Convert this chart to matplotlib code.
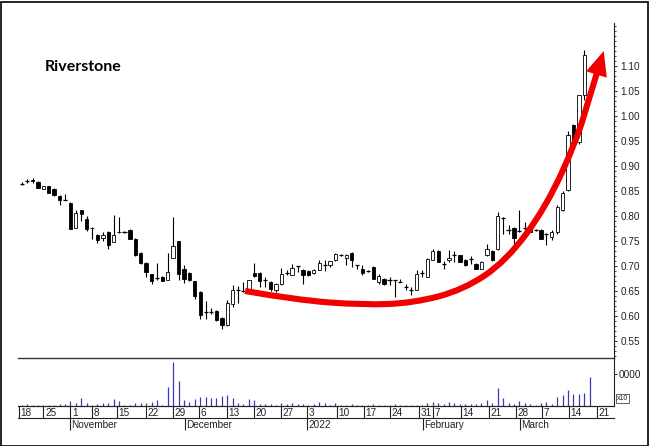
import numpy as np
import matplotlib
matplotlib.use("Agg")
from matplotlib import pyplot as plt
from matplotlib.path import Path
from matplotlib.patches import FancyArrowPatch, Rectangle
from matplotlib.ticker import MultipleLocator

title = "Riverstone"

# Daily candles, one per trading session (Oct 2021 - Mar 2022)
opens = [0.865, 0.870, 0.873, 0.869, 0.855, 0.860, 0.855, 0.841, 0.833, 0.827,
         0.777, 0.812, 0.794, 0.777, 0.763, 0.757, 0.769, 0.749, 0.769, 0.768,
         0.773, 0.755, 0.727, 0.707, 0.684, 0.677, 0.679, 0.673, 0.717, 0.750,
         0.694, 0.687, 0.670, 0.649, 0.609, 0.609, 0.611, 0.597, 0.582, 0.625,
         0.652, 0.650, 0.650, 0.687, 0.687, 0.672, 0.669, 0.652, 0.664, 0.687,
         0.683, 0.700, 0.693, 0.691, 0.687, 0.693, 0.703, 0.702, 0.713, 0.722,
         0.717, 0.727, 0.702, 0.695, 0.691, 0.699, 0.669, 0.675, 0.672, 0.672,
         0.669, 0.659, 0.652, 0.653, 0.687, 0.679, 0.713, 0.731, 0.705, 0.712,
         0.722, 0.722, 0.713, 0.715, 0.705, 0.695, 0.722, 0.731, 0.735, 0.797,
         0.772, 0.777, 0.770, 0.777, 0.777, 0.772, 0.773, 0.765, 0.759, 0.769,
         0.812, 0.853, 0.982, 0.949, 1.042]
highs = [0.868, 0.874, 0.876, 0.870, 0.861, 0.861, 0.856, 0.842, 0.845, 0.828,
         0.812, 0.813, 0.800, 0.778, 0.764, 0.768, 0.770, 0.803, 0.799, 0.770,
         0.774, 0.756, 0.728, 0.708, 0.685, 0.707, 0.680, 0.727, 0.799, 0.751,
         0.702, 0.688, 0.671, 0.650, 0.630, 0.617, 0.612, 0.598, 0.633, 0.663,
         0.660, 0.668, 0.673, 0.707, 0.688, 0.679, 0.670, 0.666, 0.697, 0.692,
         0.705, 0.701, 0.694, 0.692, 0.694, 0.713, 0.712, 0.711, 0.726, 0.724,
         0.724, 0.728, 0.703, 0.702, 0.693, 0.700, 0.685, 0.676, 0.679, 0.673,
         0.675, 0.665, 0.659, 0.692, 0.693, 0.716, 0.735, 0.732, 0.710, 0.733,
         0.730, 0.723, 0.714, 0.720, 0.706, 0.710, 0.745, 0.732, 0.809, 0.799,
         0.782, 0.778, 0.812, 0.789, 0.778, 0.775, 0.774, 0.766, 0.772, 0.822,
         0.850, 0.970, 0.985, 1.042, 1.132]
lows = [0.862, 0.866, 0.866, 0.856, 0.854, 0.846, 0.841, 0.823, 0.832, 0.774,
        0.776, 0.790, 0.770, 0.755, 0.747, 0.750, 0.735, 0.748, 0.767, 0.766,
        0.754, 0.720, 0.705, 0.679, 0.665, 0.672, 0.670, 0.672, 0.716, 0.672,
        0.667, 0.670, 0.635, 0.595, 0.595, 0.605, 0.590, 0.575, 0.580, 0.618,
        0.627, 0.648, 0.649, 0.679, 0.659, 0.659, 0.650, 0.648, 0.663, 0.682,
        0.682, 0.689, 0.665, 0.681, 0.685, 0.692, 0.691, 0.698, 0.711, 0.720,
        0.702, 0.699, 0.695, 0.682, 0.689, 0.675, 0.665, 0.662, 0.662, 0.639,
        0.668, 0.652, 0.642, 0.652, 0.679, 0.678, 0.712, 0.708, 0.695, 0.708,
        0.709, 0.708, 0.700, 0.705, 0.694, 0.694, 0.720, 0.710, 0.733, 0.765,
        0.765, 0.745, 0.768, 0.765, 0.768, 0.770, 0.755, 0.742, 0.752, 0.765,
        0.810, 0.850, 0.945, 0.945, 1.033]
closes = [0.865, 0.870, 0.870, 0.857, 0.860, 0.847, 0.842, 0.832, 0.833, 0.774,
          0.807, 0.804, 0.774, 0.776, 0.753, 0.762, 0.743, 0.763, 0.768, 0.768,
          0.755, 0.722, 0.707, 0.689, 0.671, 0.677, 0.671, 0.688, 0.740, 0.685,
          0.674, 0.672, 0.640, 0.603, 0.609, 0.609, 0.592, 0.582, 0.627, 0.653,
          0.652, 0.650, 0.673, 0.680, 0.671, 0.672, 0.655, 0.665, 0.685, 0.687,
          0.697, 0.700, 0.682, 0.682, 0.693, 0.707, 0.703, 0.710, 0.725, 0.722,
          0.723, 0.713, 0.702, 0.687, 0.691, 0.675, 0.680, 0.665, 0.672, 0.672,
          0.669, 0.659, 0.652, 0.685, 0.687, 0.715, 0.731, 0.709, 0.705, 0.717,
          0.722, 0.709, 0.702, 0.715, 0.695, 0.709, 0.735, 0.712, 0.799, 0.797,
          0.772, 0.757, 0.770, 0.777, 0.769, 0.772, 0.755, 0.765, 0.769, 0.819,
          0.847, 0.962, 0.949, 1.042, 1.122]

# Volume (x10)
volumes = [100, 420, 200, 150, 210, 150, 320, 420, 420, 1470,
           740, 2520, 740, 210, 420, 740, 950, 2000, 1470, 210,
           210, 950, 950, 950, 1050, 1790, 100, 6000, 13650, 7900,
           1790, 1260, 2100, 2840, 2840, 2520, 2310, 3050, 3360, 2520,
           950, 530, 2000, 1790, 530, 420, 420, 210, 950, 420,
           950, 420, 420, 210, 420, 1050, 740, 300, 740, 300,
           200, 420, 200, 300, 200, 420, 200, 300, 200, 420,
           200, 300, 200, 300, 200, 740, 1260, 740, 420, 1260,
           740, 420, 420, 420, 530, 950, 1790, 950, 5460, 2520,
           950, 420, 1470, 740, 420, 210, 740, 1050, 530, 2730,
           3360, 4940, 3570, 3570, 3890, 8930]

# Date axis (session positions)
day_ticks = [0.5, 5, 10, 14, 18.6, 24, 29, 33.8, 38.9, 44, 48.9, 53.8,
             59.2, 64.3, 69.1, 74.5, 77.1, 82.2, 87.3, 92.3, 97.1, 102.2, 107.3]
day_labels = ["18", "25", "1", "8", "15", "22", "29", "6", "13", "20", "27", "3",
              "10", "17", "24", "31", "7", "14", "21", "28", "7", "14", "21"]
month_ticks = [9.9, 31.1, 53.8, 75.1, 93.1]
month_labels = ["November", "December", "2022", "February", "March"]

# Hand drawn trend arrow (session, price)
trend_x = [42.3, 51.8, 64.1, 73.4, 82.6, 90.6, 98.0, 103.6, 106.0, 108.6]
trend_y = [0.650, 0.632, 0.622, 0.626, 0.652, 0.710, 0.819, 0.952, 1.039, 1.130]

W, H = 650, 446
XMIN, XMAX = 0.316, 110.5
AXFONT = "Liberation Sans"


def fig_box(x0, y0, x1, y1):
    # pixel box (top-left origin) -> figure fraction rect
    return [x0 / W, 1 - y1 / H, (x1 - x0) / W, (y1 - y0) / H]


def smooth_path(xs, ys):
    pts = list(zip(xs, ys))
    verts = [pts[0]]
    codes = [Path.MOVETO]
    for k in range(1, len(pts) - 2):
        mid = ((pts[k][0] + pts[k + 1][0]) / 2, (pts[k][1] + pts[k + 1][1]) / 2)
        verts += [pts[k], mid]
        codes += [Path.CURVE3, Path.CURVE3]
    verts += [pts[-2], pts[-1]]
    codes += [Path.CURVE3, Path.CURVE3]
    return Path(verts, codes)


fig = plt.figure(figsize=(W / 100, H / 100), dpi=100)
fig.patch.set_facecolor("white")

# --- price panel
ax = fig.add_axes(fig_box(18, 23, 614, 357.7))
o = np.array(opens)
h = np.array(highs)
l = np.array(lows)
c = np.array(closes)
x = np.arange(1, len(o) + 1)
up = c > o
down = c < o
flat = c == o

ax.vlines(x, l, h, color="black", lw=0.8, zorder=1)
ax.bar(x[down], (o - c)[down], bottom=c[down], width=0.62,
       color="black", edgecolor="black", lw=0.6, zorder=2)
ax.bar(x[up], (c - o)[up], bottom=o[up], width=0.62,
       color="white", edgecolor="black", lw=0.6, zorder=2)
ax.hlines(o[flat], x[flat] - 0.38, x[flat] + 0.38, color="black", lw=0.9, zorder=2)

ax.set_xlim(XMIN, XMAX)
ax.set_ylim(0.5166, 1.186)
for side in ["left", "top"]:
    ax.spines[side].set_visible(False)
ax.spines["right"].set_color("#222222")
ax.spines["bottom"].set_color("#3a3a3a")
ax.spines["right"].set_linewidth(0.8)
ax.spines["bottom"].set_linewidth(1.0)
ax.set_xticks([])
ax.yaxis.tick_right()
ax.yaxis.set_major_locator(MultipleLocator(0.05))
ax.yaxis.set_minor_locator(MultipleLocator(0.01))
ax.yaxis.set_major_formatter(lambda v, pos: "{:.2f}".format(v))
ax.set_yticks(np.arange(0.55, 1.101, 0.05))
ax.tick_params(axis="y", which="major", direction="out", length=2.5, width=0.7,
               pad=2, labelsize=7.2, colors="#222222")
ax.tick_params(axis="y", which="minor", direction="out", length=1.5, width=0.6,
               colors="#222222")
for lab in ax.get_yticklabels():
    lab.set_fontfamily(AXFONT)

trend = FancyArrowPatch(path=smooth_path(trend_x, trend_y),
                        arrowstyle="-|>,head_length=0.5,head_width=0.22",
                        mutation_scale=20, color="#f00000", lw=4.4,
                        capstyle="butt", joinstyle="miter", zorder=5)
ax.add_patch(trend)

# --- volume panel
axv = fig.add_axes(fig_box(18, 357.7, 614, 405.7))
axv.patch.set_visible(False)
vx = np.arange(1, len(volumes) + 1)
axv.vlines(vx, 0, volumes, color="#3a3ab4", lw=0.9)
axv.set_xlim(XMIN, XMAX)
axv.set_ylim(0, 15140)
for side in ["left", "top"]:
    axv.spines[side].set_visible(False)
axv.spines["right"].set_color("#222222")
axv.spines["bottom"].set_color("#222222")
axv.spines["right"].set_linewidth(0.8)
axv.spines["bottom"].set_linewidth(0.8)
axv.set_xticks([])
axv.yaxis.tick_right()
axv.set_yticks([10000])
axv.set_yticklabels(["0000"], fontfamily=AXFONT)
axv.tick_params(axis="y", direction="out", length=2.5, width=0.7, pad=1,
                labelsize=7.2, colors="#222222")
fig.text(617 / W, 1 - 398.5 / H, "x10", fontsize=5, family=AXFONT,
         ha="left", va="center", color="#222222",
         bbox=dict(boxstyle="square,pad=0.15", fc="white", ec="#222222", lw=0.5))

# --- date strip
axd = fig.add_axes(fig_box(18, 405.7, 614, 418.3))
axd.set_xlim(XMIN, XMAX)
axd.set_ylim(0, 1)
for side in ["left", "right"]:
    axd.spines[side].set_visible(False)
for side in ["top", "bottom"]:
    axd.spines[side].set_color("#222222")
    axd.spines[side].set_linewidth(0.8)
axd.set_xticks([])
axd.set_yticks([])
axd.patch.set_alpha(0)
axd.vlines(day_ticks, 0, 1, color="#222222", lw=0.8)
for t, lab in zip(day_ticks, day_labels):
    axd.text(t + 0.3, 0.45, lab, fontsize=7.2, family=AXFONT,
             ha="left", va="center", color="#222222")
axd.vlines(month_ticks, -0.95, 0, color="#222222", lw=0.8, clip_on=False)
for t, lab in zip(month_ticks, month_labels):
    axd.text(t + 0.3, -0.52, lab, fontsize=7.2, family=AXFONT,
             ha="left", va="center", color="#222222", clip_on=False)

# --- title and frame
fig.text(45 / W, 1 - 67 / H, title, fontsize=11.5, fontweight="bold",
         family="Lato", ha="left", va="center", color="black")
fig.patches.append(Rectangle((0.5 / W, 0.5 / H), 1 - 2.5 / W, 1 - 2.5 / H,
                             transform=fig.transFigure, fill=False,
                             ec="black", lw=1.2))

plt.savefig("out.png", dpi=100)
